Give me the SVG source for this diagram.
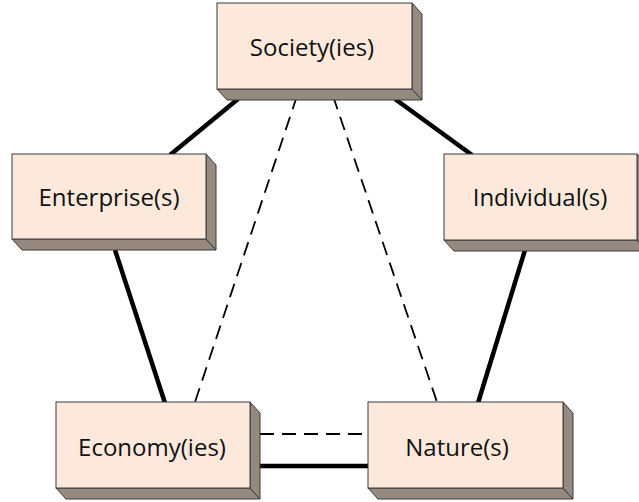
<svg xmlns="http://www.w3.org/2000/svg" width="639" height="502" viewBox="0 0 639 502">
<style>
.face{fill:#fde9dc;stroke:#3a3a3a;stroke-width:1}
.side{fill:#968a80;stroke:#3a3a3a;stroke-width:1}
.lbl{font-family:"Open Sans","Liberation Sans",sans-serif;font-size:24px;fill:#111;text-anchor:middle}
.solid{stroke:#000;stroke-width:4.5;fill:none}
.dash{stroke:#000;stroke-width:1.8;fill:none;stroke-dasharray:14 8}
</style>
<rect width="639" height="502" fill="#fff"/>
<g id="connectors">
<line class="solid" x1="238" y1="99" x2="170" y2="155"/>
<line class="solid" x1="395" y1="99" x2="472" y2="155"/>
<line class="solid" x1="115" y1="250" x2="165" y2="403"/>
<line class="solid" x1="525" y1="250" x2="478" y2="403"/>
<line class="solid" x1="260" y1="466" x2="368" y2="466"/>
<line class="dash" x1="297" y1="96" x2="195" y2="402"/>
<line class="dash" x1="333" y1="96" x2="437" y2="402"/>
<line class="dash" x1="260" y1="434" x2="368" y2="434"/>
</g>
<g id="society">
<polygon class="side" points="217,89 412,89 422,100 227,100"/>
<polygon class="side" points="412,3 422,14 422,100 412,89"/>
<rect class="face" x="217" y="3" width="195" height="86"/>
<text class="lbl" x="312" y="56">Society(ies)</text>
</g>
<g id="enterprise">
<polygon class="side" points="12,239 206,239 216,250 22,250"/>
<polygon class="side" points="206,154 216,165 216,250 206,239"/>
<rect class="face" x="12" y="154" width="194" height="85"/>
<text class="lbl" x="109" y="206">Enterprise(s)</text>
</g>
<g id="individual">
<polygon class="side" points="444,240 637,240 647,251 454,251"/>
<polygon class="side" points="637,154 647,165 647,251 637,240"/>
<rect class="face" x="444" y="154" width="193" height="86"/>
<text class="lbl" x="540" y="206">Individual(s)</text>
</g>
<g id="economy">
<polygon class="side" points="56,488 250,488 260,499 66,499"/>
<polygon class="side" points="250,402 260,413 260,499 250,488"/>
<rect class="face" x="56" y="402" width="194" height="86"/>
<text class="lbl" x="152" y="456">Economy(ies)</text>
</g>
<g id="nature">
<polygon class="side" points="368,488 563,488 573,499 378,499"/>
<polygon class="side" points="563,402 573,413 573,499 563,488"/>
<rect class="face" x="368" y="402" width="195" height="86"/>
<text class="lbl" x="457" y="456">Nature(s)</text>
</g>
</svg>
